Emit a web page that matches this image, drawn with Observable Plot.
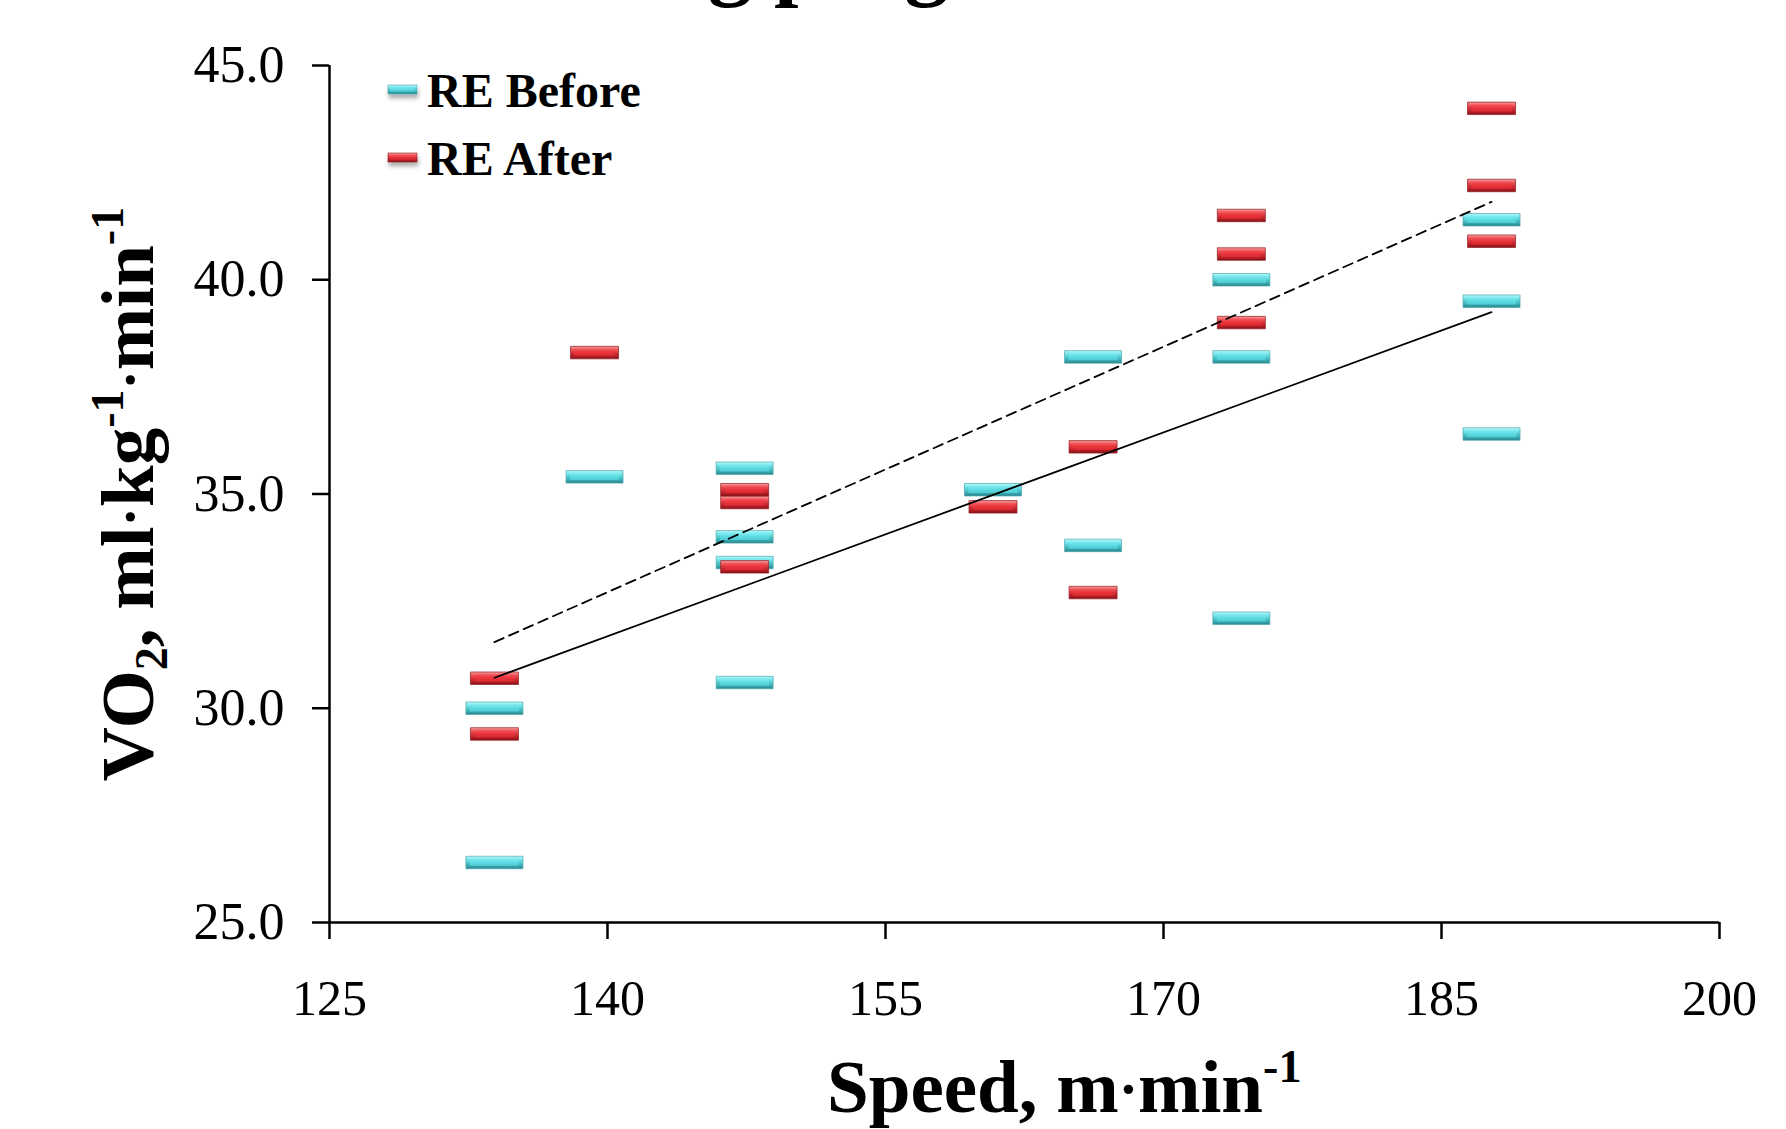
<!DOCTYPE html>
<html><head><meta charset="utf-8">
<script src="https://cdn.jsdelivr.net/npm/d3@7"></script>
<script src="https://cdn.jsdelivr.net/npm/@observablehq/plot@0.6"></script>
<style>
html,body{margin:0;padding:0;background:#fff;overflow:hidden}
#wrap{position:relative;width:1786px;height:1129px;overflow:hidden;background:#fff}
</style></head><body><div id="wrap"></div>
<script>
// ---- data ----
const seriesNames = ["RE Before", "RE After"];
const beforeSpeed = [133.9,133.9,139.3,147.4,147.4,147.4,147.4,160.8,166.2,166.2,174.2,174.2,174.2,187.7,187.7,187.7];
const beforeVO2   = [30.0,26.4,35.4,35.6,34.0,33.4,30.6,35.1,38.2,33.8,40.0,38.2,32.1,41.4,39.5,36.4];
const afterSpeed  = [133.9,133.9,139.3,147.4,147.4,147.4,160.8,166.2,166.2,174.2,174.2,174.2,187.7,187.7,187.7];
const afterVO2    = [30.7,29.4,38.3,35.1,34.8,33.3,34.7,36.1,32.7,41.5,40.6,39.0,44.0,42.2,40.9];
const xTicks = [125,140,155,170,185,200];
const yTicks = [25,30,35,40,45];
const titleText = "RE before and after training program";

const before = beforeSpeed.map((s,i)=>({speed:s, vo2:beforeVO2[i]}));
const after  = afterSpeed.map((s,i)=>({speed:s, vo2:afterVO2[i]}));

// marker shapes (pixel sized): outer bevel body and inner face
function barSymbol(w, h){
  return {draw(ctx){
    ctx.moveTo(-w/2,-h/2); ctx.lineTo(w/2,-h/2); ctx.lineTo(w/2,h/2); ctx.lineTo(-w/2,h/2); ctx.closePath();
  }};
}
function faceSymbol(w, h){
  const l = -w/2 + 4, r = w/2 - 4, t = -h/2 + 2.5, b = h/2 - 3;
  return {draw(ctx){
    ctx.moveTo(l,t); ctx.lineTo(r,t); ctx.lineTo(r,b); ctx.lineTo(l,b); ctx.closePath();
  }};
}
const serif = "'Liberation Serif','Times New Roman',Times,serif";
const CW = 57, RW = 48, BH = 12.5;

const plot = Plot.plot({
  width: 1786, height: 1129,
  marginLeft: 329, marginRight: 67, marginTop: 65, marginBottom: 207,
  style: {fontFamily: serif, fontSize: "50px", color: "#000", background: "#fff"},
  x: {domain: [125, 200], label: null},
  y: {domain: [25, 45], label: null},
  marks: [
    Plot.axisX({ticks: xTicks, tickSize: 17, tickPadding: 40, tickFormat: d => String(d), strokeWidth: 2.5, label: null}),
    Plot.axisY({ticks: yTicks, tickSize: 17, tickPadding: 28, tickFormat: d3.format(".1f"), strokeWidth: 2.5, label: null, fontSize: 52}),
    Plot.dot(before, {x: "speed", y: "vo2", symbol: barSymbol(CW, BH), r: 5, fill: "url(#eCyan)", stroke: "#4aa7ad", strokeWidth: 0.7, ariaLabel: "before"}),
    Plot.dot(before, {x: "speed", y: "vo2", symbol: faceSymbol(CW, BH), r: 5, fill: "url(#fCyan)", stroke: "none", ariaLabel: "before-face"}),
    Plot.dot(after, {x: "speed", y: "vo2", symbol: barSymbol(RW, BH), r: 5, fill: "url(#eRed)", stroke: "#8e1a1f", strokeWidth: 0.7, ariaLabel: "after"}),
    Plot.dot(after, {x: "speed", y: "vo2", symbol: faceSymbol(RW, BH), r: 5, fill: "url(#fRed)", stroke: "none", ariaLabel: "after-face"}),
    Plot.linearRegressionY(before, {x: "speed", y: "vo2", ci: 0, stroke: "#000", strokeWidth: 1.8}),
    Plot.linearRegressionY(after, {x: "speed", y: "vo2", ci: 0, stroke: "#000", strokeWidth: 1.8, strokeDasharray: "10,6"}),
    Plot.ruleY([25], {stroke: "#000", strokeWidth: 2.5}),
    Plot.ruleX([125], {stroke: "#000", strokeWidth: 2.5})
  ]
});
document.getElementById("wrap").appendChild(plot);

const svg = d3.select(plot);
const defs = svg.insert("defs", ":first-child");
function grad(id, stops){
  const g = defs.append("linearGradient").attr("id", id).attr("x1",0).attr("y1",0).attr("x2",0).attr("y2",1);
  stops.forEach(([o,c]) => g.append("stop").attr("offset", o).attr("stop-color", c));
}
grad("eCyan", [[0,"#b8fafb"],[0.3,"#6fe2e8"],[0.7,"#3eb3ba"],[1,"#2a858c"]]);
grad("fCyan", [[0,"#7cecf0"],[0.5,"#5fdbe2"],[1,"#4ccbd3"]]);
grad("eRed", [[0,"#f8a0a0"],[0.3,"#ec4a50"],[0.7,"#c0222a"],[1,"#8a1318"]]);
grad("fRed", [[0,"#f4565c"],[0.5,"#e8343b"],[1,"#dc2830"]]);
const f = defs.append("filter").attr("id","shadow").attr("x","-20%").attr("y","-60%").attr("width","140%").attr("height","260%");
f.append("feDropShadow").attr("dx",1).attr("dy",4).attr("stdDeviation",2.3).attr("flood-color","#000").attr("flood-opacity",0.32);
svg.selectAll("g[aria-label=before], g[aria-label=after]").attr("filter","url(#shadow)");

// legend
const leg = svg.append("g").attr("text-anchor","start");
[["eCyan","fCyan","#4aa7ad", 85, 107],["eRed","fRed","#8e1a1f", 153, 175]].forEach(([e, fc, st, ry, by], i) => {
  leg.append("rect").attr("x",388).attr("y",ry).attr("width",29).attr("height",9).attr("fill",`url(#${e})`).attr("stroke",st).attr("stroke-width",0.6).attr("filter","url(#shadow)");
  leg.append("rect").attr("x",390).attr("y",ry+2).attr("width",25).attr("height",4.5).attr("fill",`url(#${fc})`);
  leg.append("text").attr("x",427).attr("y",by).attr("text-anchor","start").attr("font-family",serif).attr("font-weight","bold").attr("font-size",48).attr("fill","#000").text(seriesNames[i]);
});

// axis titles
const xt = svg.append("text").attr("x",827).attr("y",1112).attr("text-anchor","start").attr("font-family",serif).attr("font-weight","bold").attr("font-size",75).attr("fill","#000");
xt.append("tspan").text("Speed, m");
xt.append("tspan").attr("font-size",58).attr("dy",-4).text("\u00B7");
xt.append("tspan").attr("dy",4).text("min");
xt.append("tspan").attr("font-size",46).attr("dy",-30).text("-1");

const yt = svg.append("text").attr("transform","translate(153,494) rotate(-90)").attr("text-anchor","middle").attr("font-family",serif).attr("font-weight","bold").attr("font-size",75).attr("fill","#000");
yt.append("tspan").text("VO");
yt.append("tspan").attr("font-size",46).attr("dy",14).text("2");
yt.append("tspan").attr("dy",-14).text(", ml");
yt.append("tspan").attr("font-size",58).attr("dy",-4).text("\u00B7");
yt.append("tspan").attr("dy",4).text("kg");
yt.append("tspan").attr("font-size",46).attr("dy",-30).text("-1");
yt.append("tspan").attr("font-size",58).attr("dy",26).text("\u00B7");
yt.append("tspan").attr("dy",4).text("min");
yt.append("tspan").attr("font-size",46).attr("dy",-30).text("-1");

// cropped title at the top
const tt = svg.append("text").attr("x",0).attr("y",-11).attr("text-anchor","start").attr("font-family",serif).attr("font-weight","bold").attr("font-size",88).attr("fill","#000").text(titleText);
const idx = titleText.indexOf("program");
const pre = tt.node().getSubStringLength(0, idx);
tt.attr("x", 774 - pre);
</script></body></html>
